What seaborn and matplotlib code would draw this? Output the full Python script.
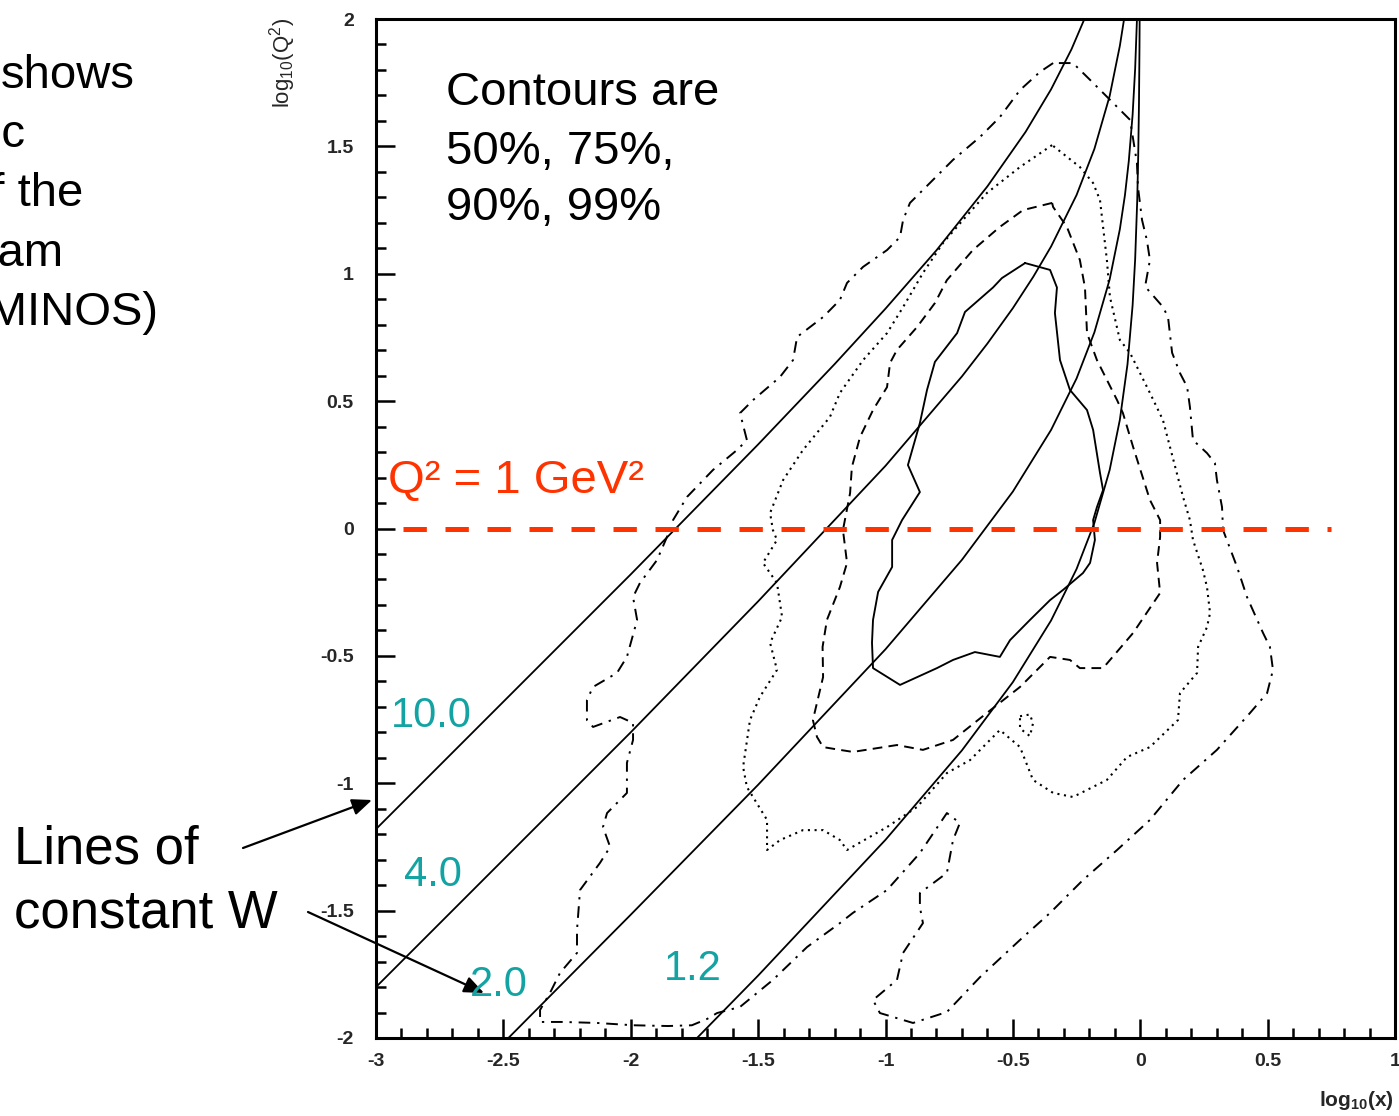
import matplotlib
matplotlib.use("Agg")
import matplotlib.pyplot as plt
import seaborn as sns
from matplotlib.ticker import FixedLocator, FixedFormatter, MultipleLocator

# ---------------- data ----------------
# lines of constant W (log10 x, log10 Q^2)
w10_x = [-3.05, -2.5, -2.0, -1.5, -1.2, -1.0, -0.8, -0.6, -0.45, -0.35, -0.27, -0.22, -0.20]
w10_y = [-1.23, -0.68, -0.18, 0.33, 0.645, 0.863, 1.092, 1.343, 1.557, 1.724, 1.881, 1.998, 2.05]

w4_x = [-3.05, -2.5, -2.0, -1.5, -1.0, -0.7, -0.6, -0.5, -0.42, -0.35, -0.25, -0.18, -0.12, -0.08, -0.065, -0.055]
w4_y = [-1.85, -1.30, -0.80, -0.286, 0.246, 0.597, 0.726, 0.865, 0.988, 1.107, 1.309, 1.49, 1.698, 1.895, 1.99, 2.07]

w2_x = [-2.52, -2.0, -1.5, -1.0, -0.7, -0.5, -0.35, -0.25, -0.18, -0.12, -0.08, -0.06, -0.045, -0.03, -0.02, -0.013, -0.01]
w2_y = [-2.04, -1.516, -1.006, -0.474, -0.123, 0.145, 0.387, 0.589, 0.77, 0.978, 1.175, 1.309, 1.442, 1.624, 1.805, 1.997, 2.112]

w12_x = [-1.78, -1.5, -1.0, -0.7, -0.5, -0.35, -0.25, -0.18, -0.12, -0.08, -0.05, -0.03, -0.02, -0.012, -0.008, -0.005, -0.003, -0.002]
w12_y = [-2.041, -1.755, -1.222, -0.871, -0.603, -0.361, -0.159, 0.022, 0.230, 0.427, 0.645, 0.876, 1.057, 1.284, 1.462, 1.67, 1.889, 2.068]

# 50% contour (solid)
c50_x = [-0.452, -0.354, -0.327, -0.335, -0.315, -0.276, -0.209, -0.185, -0.158, -0.146, -0.170, -0.185,
         -0.178, -0.197, -0.225, -0.303, -0.354, -0.433, -0.511, -0.551, -0.649, -0.735, -0.798, -0.943,
         -1.049, -1.053, -1.049, -1.029, -0.974, -0.974, -0.935, -0.865, -0.912, -0.865, -0.837, -0.806,
         -0.719, -0.688, -0.578, -0.543, -0.452]
c50_y = [1.042, 1.015, 0.946, 0.846, 0.661, 0.544, 0.465, 0.387, 0.218, 0.151, 0.084, 0.033,
         -0.045, -0.135, -0.175, -0.241, -0.281, -0.359, -0.438, -0.504, -0.485, -0.516, -0.548, -0.614,
         -0.548, -0.449, -0.359, -0.249, -0.151, -0.045, 0.033, 0.143, 0.249, 0.414, 0.544, 0.654,
         0.767, 0.850, 0.946, 0.983, 1.042]

# 75% contour (dashed)
c75_x = [-0.346, -0.460, -0.551, -0.657, -0.759, -0.806, -0.876, -0.955, -0.982, -0.994, -1.049, -1.100,
         -1.132, -1.139, -1.167, -1.151, -1.179, -1.230, -1.247, -1.245, -1.285, -1.269, -1.245, -1.179,
         -1.128, -0.955, -0.853, -0.735, -0.602, -0.472, -0.354, -0.276, -0.237, -0.146, -0.028, 0.078,
         0.066, 0.078, 0.078, 0.038, -0.028, -0.068, -0.091, -0.170, -0.209, -0.217, -0.237, -0.288,
         -0.342, -0.346]
c75_y = [1.278, 1.250, 1.184, 1.093, 0.975, 0.885, 0.791, 0.701, 0.650, 0.555, 0.465, 0.359,
         0.241, 0.139, -0.006, -0.135, -0.230, -0.359, -0.465, -0.583, -0.752, -0.818, -0.858, -0.869,
         -0.877, -0.850, -0.869, -0.830, -0.724, -0.622, -0.504, -0.516, -0.548, -0.548, -0.410, -0.253,
         -0.135, -0.033, 0.033, 0.112, 0.320, 0.453, 0.504, 0.661, 0.767, 0.946, 1.054, 1.184,
         1.262, 1.278]

# 90% contour (dotted)
c90_x = [-0.346, -0.472, -0.602, -0.696, -0.774, -0.853, -0.931, -0.994, -1.088, -1.179, -1.218, -1.324,
         -1.402, -1.453, -1.442, -1.426, -1.481, -1.426, -1.406, -1.453, -1.426, -1.493, -1.532, -1.559,
         -1.544, -1.465, -1.465, -1.414, -1.324, -1.245, -1.179, -1.151, -0.994, -0.876, -0.759, -0.668,
         -0.551, -0.472, -0.421, -0.342, -0.264, -0.131, -0.052, 0.038, 0.148, 0.156, 0.223, 0.227,
         0.262, 0.274, 0.262, 0.246, 0.207, 0.195, 0.168, 0.089, 0.038, -0.040, -0.080, -0.119,
         -0.131, -0.158, -0.185, -0.237, -0.346]
c90_y = [1.505, 1.419, 1.317, 1.211, 1.121, 1.003, 0.869, 0.767, 0.661, 0.532, 0.438, 0.308,
         0.190, 0.061, -0.006, -0.045, -0.135, -0.214, -0.347, -0.449, -0.555, -0.661, -0.752, -0.936,
         -1.015, -1.144, -1.262, -1.223, -1.184, -1.184, -1.223, -1.262, -1.172, -1.093, -0.960, -0.909,
         -0.791, -0.858, -0.987, -1.038, -1.054, -0.987, -0.897, -0.858, -0.752, -0.646, -0.567, -0.465,
         -0.387, -0.332, -0.230, -0.163, -0.045, 0.033, 0.124, 0.426, 0.532, 0.689, 0.740, 0.909,
         1.054, 1.289, 1.356, 1.419, 1.505]

# small isolated 90% island
c90b_x = [-0.472, -0.433, -0.421, -0.433, -0.472, -0.472]
c90b_y = [-0.737, -0.730, -0.765, -0.815, -0.785, -0.737]

# 99% contour (dash-dot)
c99_x = [-0.342, -0.394, -0.472, -0.551, -0.629, -0.735, -0.814, -0.904, -0.931, -0.943, -0.994, -1.088,
         -1.151, -1.179, -1.245, -1.347, -1.363, -1.414, -1.520, -1.571, -1.544, -1.583, -1.677, -1.779,
         -1.834, -1.846, -1.897, -1.964, -1.991, -1.975, -2.015, -2.054, -2.148, -2.172, -2.172, -2.148,
         -2.042, -1.991, -1.991, -2.015, -2.015, -2.093, -2.109, -2.081, -2.121, -2.199, -2.211, -2.211,
         -2.278, -2.317, -2.356, -2.356, -2.266, -2.132, -1.990, -1.854, -1.760, -1.700, -1.661, -1.571,
         -1.442, -1.308, -1.179, -1.128, -0.994, -0.865, -0.759, -0.708, -0.735, -0.759, -0.865, -0.865,
         -0.853, -0.931, -0.955, -1.049, -1.022, -0.892, -0.759, -0.629, -0.472, -0.354, -0.276, -0.225,
         -0.091, 0.038, 0.168, 0.301, 0.431, 0.498, 0.521, 0.509, 0.482, 0.419, 0.380, 0.325,
         0.321, 0.301, 0.293, 0.262, 0.207, 0.195, 0.184, 0.156, 0.125, 0.109, 0.089, 0.019,
         0.038, 0.026, 0.007, -0.009, -0.013, -0.040, -0.091, -0.197, -0.264, -0.342]
c99_y = [1.827, 1.792, 1.721, 1.615, 1.537, 1.447, 1.368, 1.278, 1.211, 1.144, 1.093, 1.027,
         0.964, 0.897, 0.830, 0.752, 0.661, 0.595, 0.504, 0.453, 0.347, 0.308, 0.230, 0.124,
         0.033, -0.006, -0.124, -0.214, -0.269, -0.359, -0.504, -0.567, -0.622, -0.673, -0.752, -0.779,
         -0.740, -0.763, -0.830, -0.920, -1.038, -1.117, -1.172, -1.250, -1.313, -1.419, -1.576, -1.666,
         -1.745, -1.823, -1.890, -1.937, -1.937, -1.941, -1.950, -1.953, -1.950, -1.925, -1.902, -1.878,
         -1.772, -1.643, -1.549, -1.509, -1.419, -1.274, -1.117, -1.156, -1.223, -1.352, -1.431, -1.486,
         -1.549, -1.666, -1.772, -1.851, -1.902, -1.941, -1.898, -1.761, -1.615, -1.509, -1.431, -1.380,
         -1.262, -1.144, -0.987, -0.869, -0.724, -0.646, -0.555, -0.465, -0.410, -0.269, -0.151, -0.006,
         0.084, 0.190, 0.257, 0.296, 0.347, 0.477, 0.556, 0.610, 0.690, 0.830, 0.870, 0.950,
         1.054, 1.132, 1.211, 1.341, 1.435, 1.604, 1.655, 1.761, 1.827, 1.827]

# Q^2 = 1 GeV^2 line
q2_x = [-2.894, 0.75]
q2_y = [0.0, 0.0]

x_ticks = [-3, -2.5, -2, -1.5, -1, -0.5, 0, 0.5, 1]
x_tick_labels = ["-3", "-2.5", "-2", "-1.5", "-1", "-0.5", "0", "0.5", "1"]
y_ticks = [-2, -1.5, -1, -0.5, 0, 0.5, 1, 1.5, 2]
y_tick_labels = ["-2", "-1.5", "-1", "-0.5", "0", "0.5", "1", "1.5", "2"]

# ---------------- style ----------------
sns.set_style("white")
plt.rcParams["font.family"] = ["Liberation Sans", "DejaVu Sans"]
plt.rcParams["mathtext.fontset"] = "custom"
plt.rcParams["mathtext.rm"] = "Liberation Sans"
plt.rcParams["mathtext.bf"] = "Liberation Sans:bold"
plt.rcParams["mathtext.it"] = "Liberation Sans:italic"
plt.rcParams["mathtext.default"] = "rm"

W, H = 1399, 1116
fig = plt.figure(figsize=(W / 100, H / 100), dpi=100)
fig.patch.set_facecolor("white")
ax = fig.add_axes([376 / W, 1 - 1038 / H, (1395 - 376) / W, (1038 - 19) / H])
ax.set_facecolor("white")


def line(x, y, ls="-", lw=1.2, color="black"):
    sns.lineplot(x=x, y=y, sort=False, estimator=None, color=color, lw=lw,
                 linestyle=ls, ax=ax)


# W lines
for xs, ys in [(w10_x, w10_y), (w4_x, w4_y), (w2_x, w2_y), (w12_x, w12_y)]:
    line(xs, ys, "-", 1.3)

# contours
line(c50_x, c50_y, "-", 1.35)
line(c75_x, c75_y, (0, (5, 3.2)), 1.4)
line(c90_x, c90_y, (0, (1, 2.2)), 1.5)
line(c90b_x, c90b_y, (0, (1, 2.2)), 1.5)
line(c99_x, c99_y, (0, (6, 3.5, 1.2, 3.5)), 1.4)

# Q^2 = 1 line
line(q2_x, q2_y, (0, (4.67, 3.73)), 3.6, "#ff3300")

ax.set_xlim(-3, 1)
ax.set_ylim(-2, 2)
ax.set_xlabel("")
ax.set_ylabel("")
ax.xaxis.set_major_locator(FixedLocator(x_ticks))
ax.xaxis.set_major_formatter(FixedFormatter(x_tick_labels))
ax.yaxis.set_major_locator(FixedLocator(y_ticks))
ax.yaxis.set_major_formatter(FixedFormatter(y_tick_labels))
ax.xaxis.set_minor_locator(MultipleLocator(0.1))
ax.yaxis.set_minor_locator(MultipleLocator(0.1))
ax.tick_params(which="both", direction="in", left=True, bottom=True, top=False, right=False,
               color="black", width=1.8)
ax.tick_params(which="major", length=13.5)
ax.tick_params(which="minor", length=7)
ax.tick_params(axis="x", which="major", pad=11, labelsize=14)
ax.tick_params(axis="y", which="major", pad=16, labelsize=14)
for lab in ax.get_xticklabels() + ax.get_yticklabels():
    lab.set_fontweight("bold")
for sp in ax.spines.values():
    sp.set_visible(True)
    sp.set_color("black")
    sp.set_linewidth(2.2)


def fx(px):
    return px / W


def fy(py):
    return 1 - py / H


# axis titles
fig.text(fx(283), fy(18), r"$log_{10}(Q^{2})$", rotation=90, ha="center", va="top", fontsize=16)
fig.text(fx(1394), fy(1100), r"$\mathbf{log_{10}(x)}$", ha="right", va="center", fontsize=15)

# text inside the plot
for txt, base in [("Contours are", 105), ("50%, 75%,", 164), ("90%, 99%", 220)]:
    fig.text(fx(446), fy(base), txt, ha="left", va="baseline", fontsize=34, color="black")

fig.text(fx(388), fy(493), "Q² = 1 GeV²", ha="left", va="baseline", fontsize=34, color="#ff3300")

cyan = "#13a3a3"
for txt, px, base in [("10.0", 391, 727), ("4.0", 404, 886), ("2.0", 470, 996), ("1.2", 664, 980)]:
    fig.text(fx(px), fy(base), txt, ha="left", va="baseline", fontsize=30, color=cyan)

# left slide text (cut by the left edge, as in the reference)
for txt, right, base in [("shows", 135, 88), ("ic", 26, 147), ("of the", 83, 206),
                         ("beam", 63, 266), ("(MINOS)", 158, 325)]:
    fig.text(fx(right), fy(base), txt, ha="right", va="baseline", fontsize=34, color="black")

fig.text(fx(14), fy(863), "Lines of", ha="left", va="baseline", fontsize=38, color="black")
fig.text(fx(14), fy(927), "constant W", ha="left", va="baseline", fontsize=38, color="black")

# arrows
arrow_kw = dict(arrowstyle="-|>,head_length=0.6,head_width=0.25", color="black", lw=1.6,
                shrinkA=0, shrinkB=0, mutation_scale=20)
ax.annotate("", xy=(372, H - 800), xycoords="figure pixels", xytext=(243, H - 848),
            textcoords="figure pixels", arrowprops=arrow_kw, annotation_clip=False)
ax.annotate("", xy=(484, H - 993), xycoords="figure pixels", xytext=(308, H - 912),
            textcoords="figure pixels", arrowprops=arrow_kw, annotation_clip=False)

fig.savefig("out.png", dpi=100, facecolor="white")
